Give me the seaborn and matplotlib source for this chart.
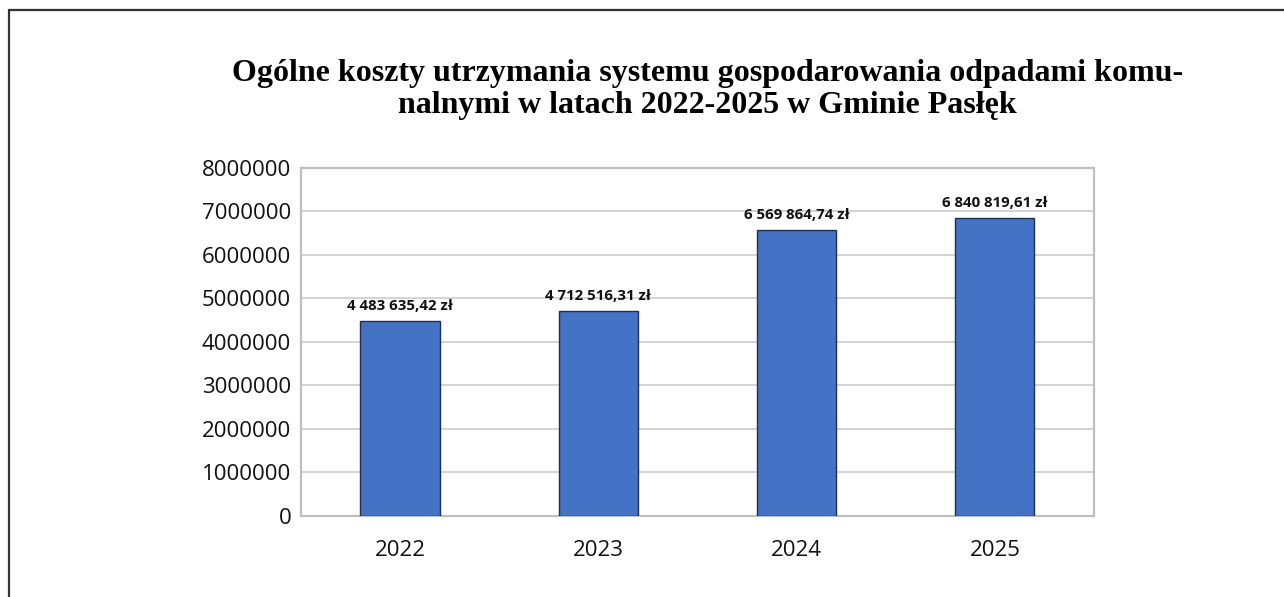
import matplotlib
matplotlib.use("Agg")
import matplotlib.pyplot as plt
import seaborn as sns
import pandas as pd
from matplotlib.lines import Line2D

# Chart data
years = ["2022", "2023", "2024", "2025"]
costs = [4483635.42, 4712516.31, 6569864.74, 6840819.61]
cost_labels = ["4 483 635,42 zł", "4 712 516,31 zł", "6 569 864,74 zł", "6 840 819,61 zł"]
y_ticks = [0, 1000000, 2000000, 3000000, 4000000, 5000000, 6000000, 7000000, 8000000]

df = pd.DataFrame({"rok": years, "koszt": costs})

sns.set_style("white")
plt.rcParams["font.family"] = ["Open Sans", "DejaVu Sans"]

fig = plt.figure(figsize=(12.84, 5.97), dpi=100)
ax = fig.add_axes([0.2344, 0.1357, 0.6176, 0.5829])

sns.barplot(data=df, x="rok", y="koszt", color="#4472C4", saturation=1,
            width=0.4, edgecolor="#1F2F4F", linewidth=1, ax=ax, zorder=3)

ax.set_ylim(0, 8000000)
ax.set_yticks(y_ticks)
ax.set_yticklabels([str(v) for v in y_ticks])
ax.set_xlabel("")
ax.set_ylabel("")
ax.grid(axis="y", color="#D0D0D0", linewidth=1.3, zorder=0)
ax.set_axisbelow(True)
for s in ax.spines.values():
    s.set_visible(True)
    s.set_color("#BFBFBF")
    s.set_linewidth(1.6)
ax.tick_params(axis="y", length=0, pad=7, labelsize=16, labelcolor="#111111")
ax.tick_params(axis="x", length=0, pad=17, labelsize=16, labelcolor="#111111")

# value labels above bars
for i, (v, lab) in enumerate(zip(costs, cost_labels)):
    ax.annotate(lab, (i, v), xytext=(0, 6), textcoords="offset points",
                ha="center", va="bottom", fontsize=10.8, fontweight="bold",
                color="#111111")

# title (va baseline -> last line baseline)
fig.text(0.551, 0.8107,
         "Ogólne koszty utrzymania systemu gospodarowania odpadami komu-\nnalnymi w latach 2022-2025 w Gminie Pasłęk",
         ha="center", va="baseline", multialignment="center",
         family=["Liberation Serif", "DejaVu Serif"], fontweight="bold",
         fontsize=23, color="#000000", linespacing=1.15)

# frame lines (top and left edge)
fig.add_artist(Line2D([0.007, 1.0], [0.984, 0.984], color="#333333", linewidth=1.6,
                      transform=fig.transFigure))
fig.add_artist(Line2D([0.007, 0.007], [0.0, 0.984], color="#333333", linewidth=1.6,
                      transform=fig.transFigure))

fig.savefig("out.png", dpi=100, facecolor="white")
